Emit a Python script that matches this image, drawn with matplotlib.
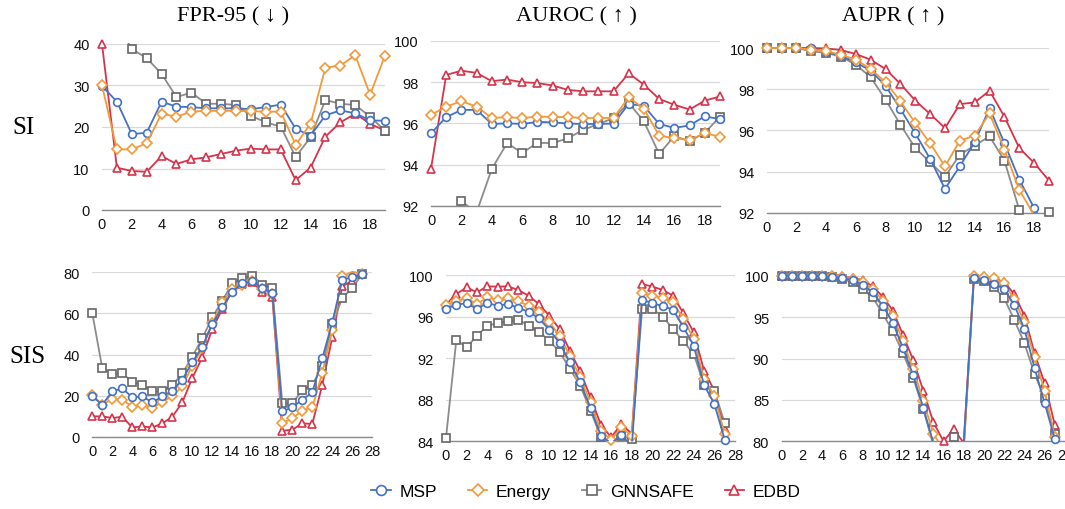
import numpy as np
import matplotlib
matplotlib.use('Agg')
import matplotlib.pyplot as plt
from matplotlib.patches import Rectangle
from matplotlib.lines import Line2D

plt.rcParams['font.family'] = ['Liberation Sans', 'DejaVu Sans']

# ---------------- data ----------------
methods = ['MSP', 'Energy', 'GNNSAFE', 'EDBD']
si_x = list(range(20))
sis_x = list(range(28))

si_fpr_msp = [29.9, 26.1, 18.3, 18.6, 26.1, 24.9, 24.8, 24.5, 24.5, 24.5, 24.3, 24.8, 25.4, 19.6, 17.9, 22.8, 24.0, 23.3, 21.6, 21.5]
si_fpr_energy = [30.0, 14.6, 14.6, 16.1, 23.2, 22.5, 23.7, 23.9, 23.9, 23.9, 23.8, 23.7, 23.7, 15.7, 20.8, 34.3, 34.8, 37.3, 27.8, 37.2]
si_fpr_gnnsafe = [48.0, 45.0, 38.8, 36.6, 32.8, 27.2, 28.3, 25.6, 25.6, 25.3, 22.7, 21.1, 20.1, 12.8, 17.5, 26.5, 25.6, 25.3, 22.5, 19.1]
si_fpr_edbd = [40.0, 10.2, 9.4, 9.2, 13.0, 11.1, 12.2, 12.7, 13.5, 14.3, 14.8, 14.6, 14.6, 7.2, 10.2, 17.7, 21.1, 23.2, 20.8, 19.1]

si_auroc_msp = [95.52, 96.30, 96.65, 96.65, 95.97, 96.00, 95.97, 96.07, 96.05, 95.99, 95.97, 95.97, 95.99, 96.94, 96.84, 95.97, 95.78, 95.90, 96.34, 96.20]
si_auroc_energy = [96.41, 96.81, 97.07, 96.81, 96.26, 96.30, 96.25, 96.33, 96.31, 96.30, 96.26, 96.26, 96.26, 97.26, 96.70, 95.41, 95.28, 95.20, 95.52, 95.36]
si_auroc_gnnsafe = [87.5, 88.0, 92.22, 91.7, 93.80, 95.04, 94.57, 95.06, 95.04, 95.28, 95.68, 95.97, 96.25, 96.99, 96.09, 94.52, 95.38, 95.14, 95.54, 96.33]
si_auroc_edbd = [93.80, 98.34, 98.55, 98.44, 98.04, 98.12, 97.99, 97.95, 97.83, 97.62, 97.55, 97.55, 97.55, 98.42, 97.87, 97.18, 96.90, 96.67, 97.10, 97.30]

si_aupr_msp = [100, 100, 100, 100, 99.80, 99.63, 99.30, 98.90, 98.17, 97.04, 95.86, 94.62, 93.17, 94.27, 95.43, 97.09, 95.38, 93.62, 92.24, 91.0]
si_aupr_energy = [100, 100, 100, 99.92, 99.84, 99.68, 99.43, 98.98, 98.34, 97.42, 96.36, 95.38, 94.26, 95.51, 95.75, 96.83, 95.07, 93.12, 91.9, 90.5]
si_aupr_gnnsafe = [100, 100, 100, 99.84, 99.76, 99.58, 99.19, 98.58, 97.50, 96.28, 95.15, 94.46, 93.76, 94.83, 95.27, 95.72, 94.54, 92.15, 90.5, 92.06]
si_aupr_edbd = [100, 100, 100, 100, 99.98, 99.90, 99.71, 99.43, 98.98, 98.26, 97.45, 96.80, 96.12, 97.28, 97.36, 97.93, 96.67, 95.15, 94.43, 93.57]

sis_fpr_msp = [19.6, 15.6, 22.1, 23.5, 19.2, 19.6, 16.7, 19.6, 22.4, 27.8, 36.2, 43.8, 54.9, 63.0, 70.6, 74.6, 75.6, 72.4, 69.9, 12.3, 14.3, 18.0, 21.6, 38.1, 55.7, 76.4, 77.6, 79.2]
sis_fpr_energy = [20.3, 15.6, 18.3, 18.0, 14.6, 15.4, 13.8, 17.0, 19.6, 24.5, 34.6, 43.0, 55.2, 65.4, 71.9, 73.8, 75.9, 71.9, 69.4, 6.7, 8.9, 12.7, 14.3, 31.0, 51.9, 78.0, 80.3, 79.2]
sis_fpr_gnnsafe = [60.1, 33.3, 30.5, 31.0, 26.5, 25.3, 22.1, 22.1, 25.0, 30.8, 39.0, 47.9, 58.1, 66.2, 74.6, 77.1, 78.4, 74.0, 72.4, 16.2, 16.2, 22.7, 25.2, 34.3, 54.9, 67.5, 72.4, 79.2]
sis_fpr_edbd = [9.9, 9.9, 9.1, 9.7, 4.5, 5.0, 4.5, 6.5, 9.7, 16.7, 28.6, 38.6, 52.4, 62.1, 71.1, 74.3, 75.1, 70.6, 68.2, 2.9, 3.4, 6.5, 6.2, 25.2, 48.4, 73.2, 75.9, 80.8]

sis_auroc_msp = [96.73, 97.15, 97.28, 96.73, 97.31, 97.05, 97.21, 96.83, 96.47, 95.83, 94.74, 93.46, 91.60, 89.68, 87.21, 84.55, 83.8, 84.62, 83.5, 97.60, 97.31, 96.99, 96.67, 94.97, 93.21, 89.42, 87.60, 84.17]
sis_auroc_energy = [97.15, 97.47, 97.76, 97.21, 97.85, 97.60, 97.76, 97.47, 97.05, 96.41, 95.45, 94.17, 92.24, 90.16, 87.76, 85.03, 84.13, 85.35, 84.5, 98.24, 98.01, 97.79, 97.37, 95.77, 93.85, 90.00, 88.40, 84.71]
sis_auroc_gnnsafe = [84.33, 93.75, 93.04, 94.17, 95.13, 95.35, 95.55, 95.71, 95.13, 94.55, 93.69, 92.63, 90.96, 89.36, 86.96, 84.40, 83.9, 84.5, 84.2, 96.73, 96.73, 95.99, 94.81, 93.62, 92.40, 89.42, 88.88, 85.74]
sis_auroc_edbd = [97.15, 98.17, 98.81, 98.33, 98.91, 98.88, 98.91, 98.56, 98.01, 97.21, 96.09, 94.81, 92.72, 90.74, 88.24, 85.61, 84.39, 85.67, 84.71, 99.13, 98.88, 98.56, 98.01, 96.31, 94.49, 90.80, 88.88, 85.19]

sis_aupr_msp = [100, 100, 100, 100, 99.92, 99.88, 99.72, 99.48, 98.91, 97.99, 96.38, 94.29, 91.23, 88.00, 84.02, 79.8, 78.5, 78.5, 79.9, 99.68, 99.52, 98.99, 98.39, 96.46, 93.56, 88.85, 84.59, 80.3]
sis_aupr_energy = [100, 100, 100, 100, 100, 99.96, 99.80, 99.60, 99.20, 98.39, 96.98, 95.17, 92.07, 88.73, 84.91, 80.89, 79.0, 79.0, 79.0, 100, 99.88, 99.68, 99.07, 97.18, 94.37, 90.14, 86.04, 80.48]
sis_aupr_gnnsafe = [100, 100, 100, 100, 99.95, 99.80, 99.60, 99.20, 98.39, 97.38, 95.37, 93.28, 90.62, 87.65, 83.90, 79.5, 79.0, 80.56, 79.0, 99.60, 99.32, 98.59, 97.26, 94.65, 91.83, 88.13, 85.23, 80.90]
sis_aupr_edbd = [100, 100, 100, 100, 100, 99.96, 99.90, 99.75, 99.48, 98.71, 97.46, 95.77, 92.84, 89.82, 86.12, 82.29, 80.0, 81.49, 79.8, 100, 99.92, 99.72, 99.20, 97.79, 95.17, 90.62, 87.00, 82.01]

col_titles = ['FPR-95 ( \u2193 )', 'AUROC ( \u2191 )', 'AUPR ( \u2191 )']
row_titles = ['SI', 'SIS']

# ---------------- style ----------------
W, H = 1065, 510
fig = plt.figure(figsize=(W / 100, H / 100), dpi=100)

styles = {
    'MSP': dict(color='#4472C4', mec='#4472C4', marker='o', ms=5.6),
    'Energy': dict(color='#F29A3A', mec='#F29A3A', marker='D', ms=5.0),
    'GNNSAFE': dict(color='#8C8C8C', mec='#666666', marker='s', ms=5.6),
    'EDBD': dict(color='#D7334A', mec='#D7334A', marker='^', ms=6.2),
}


def add_ax(x0, x1, ytop, ybot):
    return fig.add_axes([x0 / W, 1 - ybot / H, (x1 - x0) / W, (ybot - ytop) / H])


def draw(ax, x, series, order, ylim, yticks, xlim, xticks):
    hpx = ax.get_position().height * H
    for i, name in enumerate(order):
        st = styles[name]
        y = np.asarray(series[name], dtype=float)
        z = 3 + 2 * i
        ln, = ax.plot(x, y, color=st['color'], lw=1.3, zorder=z, solid_joinstyle='round')
        ln.set_clip_path(Rectangle((-0.05, 0), 1.1, 1.0 + 1.5 / hpx, transform=ax.transAxes))
        ym = np.ma.masked_outside(y, ylim[0] - 1e-9, ylim[1] + 1e-9)
        ax.plot(x, ym, ls='none', marker=st['marker'], ms=st['ms'], mfc='white',
                mec=st['mec'], mew=1.2, clip_on=False, zorder=z + 1)
    ax.set_xlim(*xlim)
    ax.set_ylim(*ylim)
    ax.set_yticks(yticks)
    ax.set_xticks(xticks)
    ax.yaxis.grid(True, color='#d9d9d9', lw=0.9)
    ax.set_axisbelow(True)
    for s in ['left', 'right', 'top']:
        ax.spines[s].set_visible(False)
    ax.spines['bottom'].set_color('#8a8a8a')
    ax.spines['bottom'].set_linewidth(1.0)
    ax.tick_params(axis='y', length=0, pad=9, labelsize=10.5, labelcolor='#111111')
    ax.tick_params(axis='x', length=0, pad=5, labelsize=10.5, labelcolor='#111111')


top_order = ['EDBD', 'GNNSAFE', 'MSP', 'Energy']
bot_order = ['EDBD', 'GNNSAFE', 'Energy', 'MSP']

panels = [
    ((102, 385, 45, 211), si_x, dict(zip(methods, [si_fpr_msp, si_fpr_energy, si_fpr_gnnsafe, si_fpr_edbd])),
     top_order, (0, 40), [0, 10, 20, 30, 40], (0, 19), list(range(0, 19, 2))),
    ((431, 720, 41.7, 207), si_x, dict(zip(methods, [si_auroc_msp, si_auroc_energy, si_auroc_gnnsafe, si_auroc_edbd])),
     top_order, (92, 100), [92, 94, 96, 98, 100], (0, 19), list(range(0, 19, 2))),
    ((766.7, 1049, 49, 214), si_x, dict(zip(methods, [si_aupr_msp, si_aupr_energy, si_aupr_gnnsafe, si_aupr_edbd])),
     top_order, (92, 100), [92, 94, 96, 98, 100], (0, 19), list(range(0, 19, 2))),
    ((92.3, 372.3, 273.3, 437.7), sis_x, dict(zip(methods, [sis_fpr_msp, sis_fpr_energy, sis_fpr_gnnsafe, sis_fpr_edbd])),
     bot_order, (0, 80), [0, 20, 40, 60, 80], (0, 28), list(range(0, 29, 2))),
    ((446, 735, 276, 442.3), sis_x, dict(zip(methods, [sis_auroc_msp, sis_auroc_energy, sis_auroc_gnnsafe, sis_auroc_edbd])),
     bot_order, (84, 100), [84, 88, 92, 96, 100], (0, 28), list(range(0, 29, 2))),
    ((781.7, 1064.9, 276.7, 442.3), sis_x, dict(zip(methods, [sis_aupr_msp, sis_aupr_energy, sis_aupr_gnnsafe, sis_aupr_edbd])),
     bot_order, (80, 100), [80, 85, 90, 95, 100], (0, 28), list(range(0, 29, 2))),
]

for pos, x, series, order, ylim, yticks, xlim, xticks in panels:
    ax = add_ax(*pos)
    draw(ax, x, series, order, ylim, yticks, xlim, xticks)

serif = ['Liberation Serif', 'DejaVu Serif']
for cx, t in zip([233, 576, 893], col_titles):
    fig.text(cx / W, 1 - 17 / H, t, ha='center', va='center', fontsize=16, family=serif)
fig.text(23 / W, 1 - 128 / H, row_titles[0], ha='center', va='center', fontsize=18, family=serif)
fig.text(27 / W, 1 - 357 / H, row_titles[1], ha='center', va='center', fontsize=18, family=serif)

handles = [Line2D([], [], color=styles[m]['color'], lw=1.3, marker=styles[m]['marker'],
                  ms=styles[m]['ms'] + 1.5, mfc='white', mec=styles[m]['mec'], mew=1.2) for m in methods]
fig.legend(handles, methods, loc='center', bbox_to_anchor=(586 / W, 1 - 492 / H), ncol=4,
           frameon=False, fontsize=12.5, handlelength=1.1, handletextpad=0.5, columnspacing=1.8)

fig.savefig('out.png', dpi=100)
